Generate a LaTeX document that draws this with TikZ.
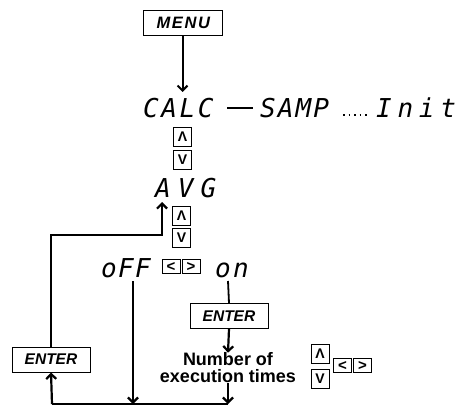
\documentclass[tikz,border=0pt]{standalone}
\usepackage{fontspec}
\setmainfont{Liberation Sans}
\newfontfamily\segfont{DejaVu Sans Mono Oblique}
\usetikzlibrary{arrows.meta}
\tikzset{
  x=1pt, y=-1pt,
  keybox/.style={draw, line width=0.9pt, minimum width=78pt, minimum height=25pt, inner sep=0pt,
    font=\fontsize{15.5}{16}\selectfont\bfseries\itshape},
  btn/.style={draw, line width=0.9pt, minimum width=18pt, minimum height=19pt, inner sep=0pt,
    font=\fontsize{14}{14}\selectfont\bfseries},
  hbtn/.style={btn, minimum height=14pt, font=\fontsize{15}{15}\selectfont\bfseries},
  seg/.style={anchor=base west, inner sep=0pt, font=\fontsize{26}{26}\segfont},
  wire/.style={line width=2.2pt},
  arr/.style={wire, -{Straight Barb[length=5pt,width=10pt]}},
}
\begin{document}
\begin{tikzpicture}
\useasboundingbox (0,0) rectangle (457,406);

% keys
\node[keybox, minimum width=79pt, font=\fontsize{16.5}{17}\selectfont\bfseries\itshape] (menu) at (182.5,22.5)
  {\addfontfeature{LetterSpace=10}MENU\kern-1.6pt};
\node[keybox] (enter1) at (229,316) {ENTER};
\node[keybox] (enter2) at (51,359.5) {ENTER};

% segment display texts
\node[seg] (calc) at (143,118) {\addfontfeature{LetterSpace=10}CALC};
\node[seg] (samp) at (260,118) {\addfontfeature{LetterSpace=8}SAMP};
\node[seg] (init) at (376,118) {\addfontfeature{LetterSpace=22}Init};
\node[seg] (avg)  at (155,197) {\addfontfeature{LetterSpace=27}AVG};
\node[seg] (off)  at (101,277) {\addfontfeature{LetterSpace=5}oFF};
\node[seg] (on)   at (215,277) {\addfontfeature{LetterSpace=9}on};

% buttons
\node[btn] (up1) at (182.5,137) {Λ};
\node[btn] (dn1) at (182.5,160) {V};
\node[btn] (up2) at (181.5,216) {Λ};
\node[btn] (dn2) at (181.5,237.5) {V};
\node[hbtn] (lt1) at (171,266.5) {<};
\node[hbtn] (rt1) at (191,266.5) {>};
\node[btn] (up3) at (320,354) {Λ};
\node[btn] (dn3) at (320,379) {V};
\node[hbtn] (lt2) at (342.5,365.5) {<};
\node[hbtn] (rt2) at (362.5,365.5) {>};

% text
\node[align=center, inner sep=0pt, font=\fontsize{18}{17}\selectfont\bfseries] (num) at (228,368)
  {Number of\\execution times};

% helper coordinates
\coordinate (calcin) at (182.5,92);
\coordinate (d1) at (227,108);
\coordinate (d2) at (253,108);
\coordinate (p1) at (343,115);
\coordinate (p2) at (367,115);
\coordinate (j1) at (162,235);
\coordinate (avgin) at (162,202);
\coordinate (offtop) at (133,281);
\coordinate (offbot) at (133,404);
\coordinate (ontop) at (228,281);
\coordinate (b1) at (52,404);
\coordinate (b2) at (228,404);

% connectors
\draw[arr, line width=2pt] (menu.south) -- (calcin);
\draw[line width=1.3pt] (d1) -- (d2);
\draw[line width=1.6pt, dash pattern=on 1.6pt off 3.9pt] (p1) -- (p2);
\draw[arr] (enter2.north) |- (j1) -- (avgin);
\draw[arr] (offtop) -- (offbot);
\draw[line width=1.8pt] (ontop) -- (enter1.north);
\draw[arr] (enter1.south) -- (num.north);
\draw[arr] (num.south) -- (b2);
\draw[wire] (b2) -- (b1);
\draw[arr] (b1) -- (enter2.south);
\end{tikzpicture}
\end{document}
